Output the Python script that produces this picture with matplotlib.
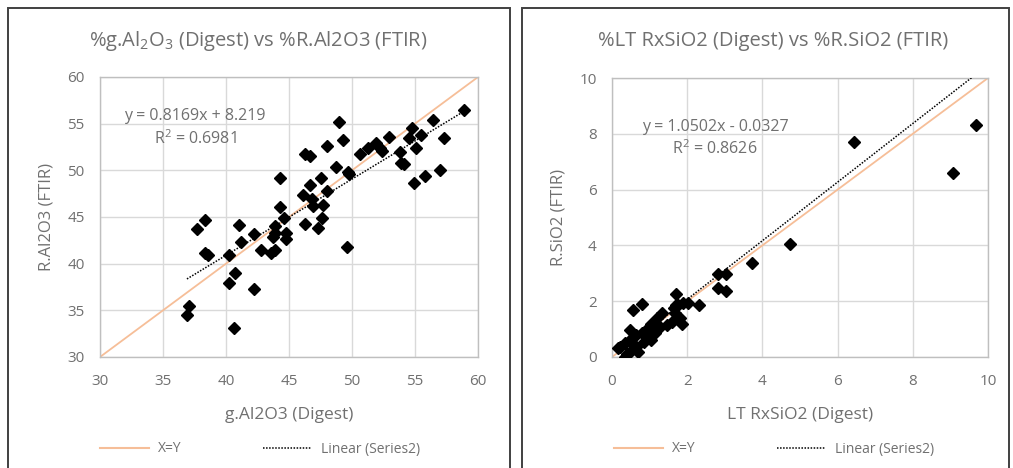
import matplotlib
matplotlib.use("Agg")
import matplotlib.pyplot as plt
from matplotlib.lines import Line2D
from matplotlib.patches import Rectangle

plt.rcParams["font.family"] = ["Open Sans", "DejaVu Sans"]
plt.rcParams["mathtext.fontset"] = "custom"
plt.rcParams["mathtext.rm"] = "Open Sans"
plt.rcParams["mathtext.it"] = "Open Sans"
plt.rcParams["mathtext.default"] = "regular"

# =====================
# 数据：Al2O3
# =====================
al_digest = [58.9, 49.0, 49.3, 48.0, 46.3, 46.7, 48.7, 49.7, 49.8, 50.6,
             51.3, 51.9, 52.2, 52.4, 52.9, 53.8, 53.9, 54.1, 54.5, 54.8,
             55.1, 55.5, 56.4, 57.3, 57.0, 55.8, 54.9, 44.3, 47.5, 46.7,
             46.1, 48.0, 46.8, 46.9, 47.7, 44.3, 44.6, 47.6, 46.3, 47.3,
             43.9, 43.9, 43.7, 44.8, 44.8, 43.6, 43.9, 42.8, 42.2, 41.0,
             41.2, 40.2, 40.7, 40.2, 42.2, 40.6, 49.6, 38.3, 37.7, 38.3,
             38.6, 37.1, 36.9]
al_ftir = [56.5, 55.2, 53.2, 52.6, 51.8, 51.5, 50.4, 49.8, 49.6, 51.7,
           52.4, 52.9, 52.4, 52.1, 53.6, 52.0, 50.8, 50.7, 53.5, 54.5,
           52.4, 53.8, 55.4, 53.5, 50.0, 49.4, 48.6, 49.2, 49.2, 48.4,
           47.4, 47.75, 46.9, 46.2, 46.3, 46.1, 44.9, 44.9, 44.2, 43.8,
           44.0, 43.3, 42.9, 43.3, 42.6, 41.1, 41.5, 41.5, 43.2, 44.1,
           42.3, 40.9, 39.0, 37.9, 37.3, 33.1, 41.75, 44.7, 43.7, 41.1,
           40.9, 35.5, 34.5]
al_slope, al_icpt = 0.8169, 8.219

# =====================
# 数据：SiO2
# =====================
si_digest = [9.69, 9.07, 6.44, 4.73, 3.72, 2.81, 3.02, 2.81, 3.02, 2.31,
             2.02, 1.69, 0.79, 0.57, 1.71, 1.89, 1.67, 1.81, 1.32, 1.19,
             1.05, 0.92, 0.79, 0.48, 0.65, 0.52, 0.35, 0.21, 0.17, 0.35,
             0.48, 0.65, 0.70, 0.96, 1.05, 1.14, 1.45, 1.59, 1.27, 1.85,
             1.66, 1.75, 0.40, 0.55, 0.85, 1.00]
si_ftir = [8.30, 6.60, 7.70, 4.05, 3.36, 2.98, 2.98, 2.46, 2.35, 1.87,
           1.93, 2.27, 1.89, 1.70, 1.86, 1.92, 1.56, 1.38, 1.56, 1.38,
           1.20, 1.02, 0.85, 0.96, 0.79, 0.67, 0.49, 0.37, 0.31, 0.01,
           0.19, 0.37, 0.19, 0.73, 0.61, 0.85, 1.14, 1.26, 1.08, 1.20,
           1.75, 1.87, 0.10, 0.45, 0.55, 0.95]
si_slope, si_icpt = 1.0502, -0.0327

W, H = 1013, 468
fig = plt.figure(figsize=(W / 100, H / 100), dpi=100)

# 图表外框
for x0, x1 in [(8, 510), (522, 1009)]:
    fig.patches.append(Rectangle((x0 / W, -0.02), (x1 - x0) / W, 1 - 8 / H + 0.02,
                                 transform=fig.transFigure, fill=False,
                                 edgecolor="#404040", linewidth=1.4))

grey = "#707070"
orange = "#F6BE98"


def panel(rect, xs, ys, slope, icpt, lim, step, title, xlabel, ylabel,
          eq, r2, eq_pos, r2_y, title_x, legend_x):
    ax = fig.add_axes(rect)
    ax.set_xlim(lim)
    ax.set_ylim(lim)
    ticks = list(range(lim[0], lim[1] + 1, step))
    ax.set_xticks(ticks)
    ax.set_yticks(ticks)
    ax.grid(True, color="#D9D9D9", linewidth=1)
    ax.set_axisbelow(True)
    for s in ax.spines.values():
        s.set_color("#BFBFBF")
        s.set_linewidth(1)
    ax.tick_params(length=0, colors=grey, labelsize=11)
    ax.tick_params(axis="x", pad=12)
    ax.tick_params(axis="y", pad=11)

    ax.plot(lim, lim, color=orange, linewidth=1.3, zorder=2)
    x0, x1 = min(xs), max(xs)
    ax.plot([x0, x1], [slope * x0 + icpt, slope * x1 + icpt],
            color="black", linestyle=(0, (1, 1)), linewidth=1.1, zorder=3)
    ax.plot(xs, ys, linestyle="none", marker="D", markersize=6,
            color="black", zorder=4)

    fig.text(title_x / W, 1 - 41 / H, title, ha="center", va="center",
             color=grey, fontsize=14.5)
    ax.set_xlabel(xlabel, color=grey, fontsize=12.5, labelpad=13)
    ax.set_ylabel(ylabel, color=grey, fontsize=12, labelpad=9)

    fig.text(eq_pos[0] / W, 1 - eq_pos[1] / H, eq,
             ha="center", va="center", color=grey, fontsize=11.5)
    fig.text(eq_pos[0] / W, 1 - r2_y / H, r2,
             ha="center", va="center", color=grey, fontsize=11.5)

    handles = [Line2D([], [], color=orange, linewidth=1.5),
               Line2D([], [], color="black", linestyle=(0, (1, 1)), linewidth=1.1)]
    fig.legend(handles, ["X=Y", "Linear (Series2)"], loc="center",
               bbox_to_anchor=(legend_x / W, 1 - 449 / H), ncol=2,
               frameon=False, handlelength=3.5, columnspacing=5.8,
               handletextpad=0.7, labelcolor=grey, fontsize=10)
    return ax


panel([100 / W, 1 - 357 / H, 378 / W, 280 / H], al_digest, al_ftir,
      al_slope, al_icpt, (30, 60), 5,
      "%g.Al$_2$O$_3$ (Digest) vs %R.Al2O3 (FTIR)",
      "g.Al2O3 (Digest)", "R.Al2O3 (FTIR)",
      "y = 0.8169x + 8.219", "R$^2$ = 0.6981", (195, 116), 139, 258, 260)

panel([612 / W, 1 - 357 / H, 376 / W, 279 / H], si_digest, si_ftir,
      si_slope, si_icpt, (0, 10), 2,
      "%LT RxSiO2 (Digest) vs %R.SiO2 (FTIR)",
      "LT RxSiO2 (Digest)", "R.SiO2 (FTIR)",
      "y = 1.0502x - 0.0327", "R$^2$ = 0.8626", (715, 127), 149, 773, 774)

fig.savefig("out.png", dpi=100)
